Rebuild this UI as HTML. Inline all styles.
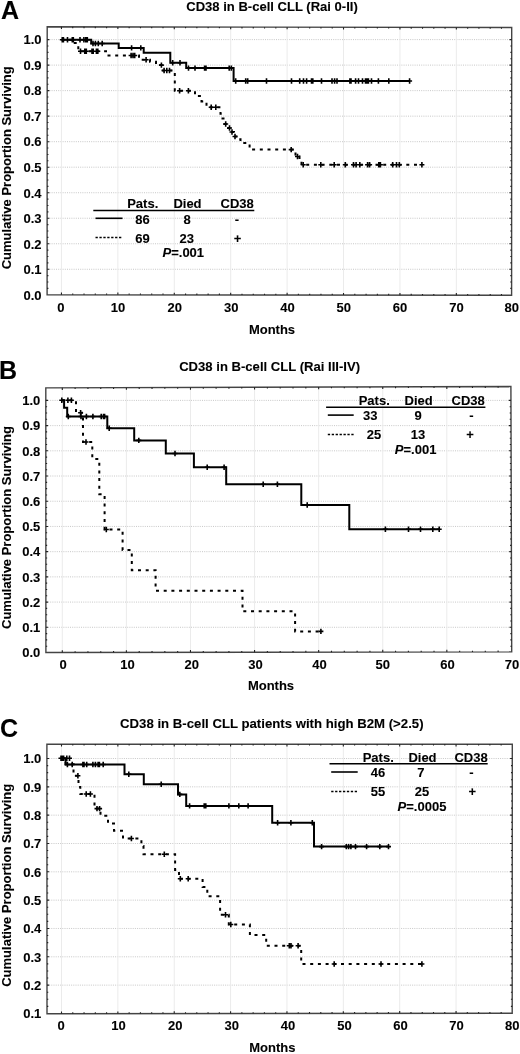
<!DOCTYPE html>
<html><head><meta charset="utf-8"><title>CD38 in B-cell CLL survival</title>
<style>
html,body{margin:0;padding:0;background:#fff;}
body{width:520px;height:1054px;overflow:hidden;}
svg{display:block;filter:blur(0.3px);}
svg text{font-family:"Liberation Sans", sans-serif;font-weight:bold;fill:#000;stroke:#000;stroke-width:0.1px;}
</style></head>
<body>
<svg width="520" height="1054" viewBox="0 0 520 1054">
<rect width="520" height="1054" fill="#fff"/>
<path d="M47.2 269.28H511.8 M47.2 243.76H511.8 M47.2 218.24H511.8 M47.2 192.72H511.8 M47.2 167.2H511.8 M47.2 141.68H511.8 M47.2 116.16H511.8 M47.2 90.64H511.8 M47.2 65.12H511.8 M47.2 39.6H511.8" stroke="#c2c2c2" stroke-width="0.9" stroke-dasharray="1 1.2" fill="none"/>
<path d="M61.45 27V294.8 M117.87 27V294.8 M174.28 27V294.8 M230.69 27V294.8 M287.11 27V294.8 M343.52 27V294.8 M399.94 27V294.8 M456.35 27V294.8" stroke="#ebebeb" stroke-width="1" fill="none"/>
<path d="M47.2 26.8L511.7 27.5L511.6 295.3L47.1 294.7Z" fill="none" stroke="#444" stroke-width="1.4" stroke-linejoin="miter"/>
<path d="M61.45 294.72v-2.2M61.45 26.82v2.2 M72.73 294.73v-1.3M72.73 26.84v1.3 M84.02 294.75v-1.3M84.02 26.86v1.3 M95.3 294.76v-1.3M95.3 26.87v1.3 M106.58 294.78v-1.3M106.58 26.89v1.3 M117.87 294.79v-2.2M117.87 26.91v2.2 M129.15 294.81v-1.3M129.15 26.92v1.3 M140.43 294.82v-1.3M140.43 26.94v1.3 M151.71 294.84v-1.3M151.71 26.96v1.3 M163 294.85v-1.3M163 26.97v1.3 M174.28 294.86v-2.2M174.28 26.99v2.2 M185.56 294.88v-1.3M185.56 27.01v1.3 M196.85 294.89v-1.3M196.85 27.03v1.3 M208.13 294.91v-1.3M208.13 27.04v1.3 M219.41 294.92v-1.3M219.41 27.06v1.3 M230.69 294.94v-2.2M230.69 27.08v2.2 M241.98 294.95v-1.3M241.98 27.09v1.3 M253.26 294.97v-1.3M253.26 27.11v1.3 M264.54 294.98v-1.3M264.54 27.13v1.3 M275.83 295v-1.3M275.83 27.14v1.3 M287.11 295.01v-2.2M287.11 27.16v2.2 M298.39 295.02v-1.3M298.39 27.18v1.3 M309.68 295.04v-1.3M309.68 27.2v1.3 M320.96 295.05v-1.3M320.96 27.21v1.3 M332.24 295.07v-1.3M332.24 27.23v1.3 M343.52 295.08v-2.2M343.52 27.25v2.2 M354.81 295.1v-1.3M354.81 27.26v1.3 M366.09 295.11v-1.3M366.09 27.28v1.3 M377.37 295.13v-1.3M377.37 27.3v1.3 M388.66 295.14v-1.3M388.66 27.31v1.3 M399.94 295.16v-2.2M399.94 27.33v2.2 M411.22 295.17v-1.3M411.22 27.35v1.3 M422.51 295.18v-1.3M422.51 27.37v1.3 M433.79 295.2v-1.3M433.79 27.38v1.3 M445.07 295.21v-1.3M445.07 27.4v1.3 M456.35 295.23v-2.2M456.35 27.42v2.2 M467.64 295.24v-1.3M467.64 27.43v1.3 M478.92 295.26v-1.3M478.92 27.45v1.3 M490.2 295.27v-1.3M490.2 27.47v1.3 M501.49 295.29v-1.3M501.49 27.48v1.3 M47.2 39.6h2.2M511.7 39.6h-2.2 M47.19 45.98h1.3M511.69 45.98h-1.3 M47.19 52.36h1.3M511.69 52.36h-1.3 M47.19 58.74h1.3M511.69 58.74h-1.3 M47.19 65.12h2.2M511.69 65.12h-2.2 M47.18 71.5h1.3M511.68 71.5h-1.3 M47.18 77.88h1.3M511.68 77.88h-1.3 M47.18 84.26h1.3M511.68 84.26h-1.3 M47.18 90.64h2.2M511.68 90.64h-2.2 M47.17 97.02h1.3M511.67 97.02h-1.3 M47.17 103.4h1.3M511.67 103.4h-1.3 M47.17 109.78h1.3M511.67 109.78h-1.3 M47.17 116.16h2.2M511.67 116.16h-2.2 M47.16 122.54h1.3M511.66 122.54h-1.3 M47.16 128.92h1.3M511.66 128.92h-1.3 M47.16 135.3h1.3M511.66 135.3h-1.3 M47.16 141.68h2.2M511.66 141.68h-2.2 M47.15 148.06h1.3M511.65 148.06h-1.3 M47.15 154.44h1.3M511.65 154.44h-1.3 M47.15 160.82h1.3M511.65 160.82h-1.3 M47.15 167.2h2.2M511.65 167.2h-2.2 M47.15 173.58h1.3M511.65 173.58h-1.3 M47.14 179.96h1.3M511.64 179.96h-1.3 M47.14 186.34h1.3M511.64 186.34h-1.3 M47.14 192.72h2.2M511.64 192.72h-2.2 M47.14 199.1h1.3M511.64 199.1h-1.3 M47.13 205.48h1.3M511.63 205.48h-1.3 M47.13 211.86h1.3M511.63 211.86h-1.3 M47.13 218.24h2.2M511.63 218.24h-2.2 M47.13 224.62h1.3M511.63 224.62h-1.3 M47.12 231h1.3M511.62 231h-1.3 M47.12 237.38h1.3M511.62 237.38h-1.3 M47.12 243.76h2.2M511.62 243.76h-2.2 M47.12 250.14h1.3M511.62 250.14h-1.3 M47.11 256.52h1.3M511.61 256.52h-1.3 M47.11 262.9h1.3M511.61 262.9h-1.3 M47.11 269.28h2.2M511.61 269.28h-2.2 M47.11 275.66h1.3M511.61 275.66h-1.3 M47.1 282.04h1.3M511.6 282.04h-1.3 M47.1 288.42h1.3M511.6 288.42h-1.3" stroke="#222" stroke-width="1.1" fill="none"/>
<text x="41.5" y="299.6" font-size="13" text-anchor="end">0.0</text>
<text x="41.5" y="274.08" font-size="13" text-anchor="end">0.1</text>
<text x="41.5" y="248.56" font-size="13" text-anchor="end">0.2</text>
<text x="41.5" y="223.04" font-size="13" text-anchor="end">0.3</text>
<text x="41.5" y="197.52" font-size="13" text-anchor="end">0.4</text>
<text x="41.5" y="172" font-size="13" text-anchor="end">0.5</text>
<text x="41.5" y="146.48" font-size="13" text-anchor="end">0.6</text>
<text x="41.5" y="120.96" font-size="13" text-anchor="end">0.7</text>
<text x="41.5" y="95.44" font-size="13" text-anchor="end">0.8</text>
<text x="41.5" y="69.92" font-size="13" text-anchor="end">0.9</text>
<text x="41.5" y="44.4" font-size="13" text-anchor="end">1.0</text>
<text x="60.9" y="311.7" font-size="13" text-anchor="middle">0</text>
<text x="118" y="311.7" font-size="13" text-anchor="middle">10</text>
<text x="174.7" y="311.7" font-size="13" text-anchor="middle">20</text>
<text x="231.2" y="311.7" font-size="13" text-anchor="middle">30</text>
<text x="287.5" y="311.7" font-size="13" text-anchor="middle">40</text>
<text x="343.7" y="311.7" font-size="13" text-anchor="middle">50</text>
<text x="400.1" y="311.7" font-size="13" text-anchor="middle">60</text>
<text x="456.6" y="311.7" font-size="13" text-anchor="middle">70</text>
<text x="511.8" y="311.7" font-size="13" text-anchor="middle">80</text>
<text x="272" y="333.5" font-size="13" text-anchor="middle">Months</text>
<text transform="translate(10.5 167.8) rotate(-90)" font-size="13" text-anchor="middle">Cumulative Proportion Surviving</text>
<text x="272" y="11.1" font-size="13.05" text-anchor="middle">CD38 in B-cell CLL (Rai 0-II)</text>
<text x="1" y="18.8" font-size="25" text-anchor="start">A</text>
<path d="M61.6 39.8 L91.2 39.8 L91.2 43.5 L118.7 43.5 L118.7 47.9 L143.7 47.9 L143.7 52.8 L170.3 52.8 L170.3 62.8 L186.2 62.8 L186.2 68.1 L233.6 68.1 L233.6 81 L410 81" stroke="#000" stroke-width="2" fill="none" stroke-linejoin="miter"/>
<path d="M61.6 39.8 L73.5 39.8 L73.5 43.1 L78.3 43.1 L78.3 51.2 L106 51.2 L106 55.5 L139 55.5 L139 59.8 L150 59.8 L150 61.8 L156 61.8 L156 65.1 L162.8 65.1 L162.8 70.5 L174.8 70.5 L174.8 90.7 L195 90.7 L195 96 L201.5 96 L201.5 101.4 L206.5 101.4 L206.5 107.3 L220.5 107.3 L220.5 113.7 L222.5 113.7 L222.5 118.6 L224.5 118.6 L224.5 124 L228 124 L228 128 L230.5 128 L230.5 132 L234 132 L234 136.5 L238 136.5 L238 139.3 L240.5 139.3 L240.5 143 L249.6 143 L249.6 149.6 L295.5 149.6 L295.5 156.5 L299.5 156.5 L299.5 160 L301.5 160 L301.5 164.8 L422 164.8" stroke="#000" stroke-width="2" fill="none" stroke-dasharray="3 4.7"/>
<path d="M62.3 37.1v5.4M59.8 39.8h5 M63.4 37.1v5.4M60.9 39.8h5 M67.5 37.1v5.4M65 39.8h5 M72.3 37.1v5.4M69.8 39.8h5 M73.3 37.1v5.4M70.8 39.8h5 M80 37.1v5.4M77.5 39.8h5 M83.9 37.1v5.4M81.4 39.8h5 M85.8 37.1v5.4M83.3 39.8h5 M87.3 37.1v5.4M84.8 39.8h5 M93 40.8v5.4M90.5 43.5h5 M95.4 40.8v5.4M92.9 43.5h5 M98.3 40.8v5.4M95.8 43.5h5 M102.2 40.8v5.4M99.7 43.5h5 M131.6 45.2v5.4M129.1 47.9h5 M140.8 45.2v5.4M138.3 47.9h5 M172.7 60.1v5.4M170.2 62.8h5 M180 60.1v5.4M177.5 62.8h5 M188.5 65.4v5.4M186 68.1h5 M195 65.4v5.4M192.5 68.1h5 M204.6 65.4v5.4M202.1 68.1h5 M206 65.4v5.4M203.5 68.1h5 M229.2 65.4v5.4M226.7 68.1h5 M231.3 65.4v5.4M228.8 68.1h5 M235.7 78.3v5.4M233.2 81h5 M245.7 78.3v5.4M243.2 81h5 M247.7 78.3v5.4M245.2 81h5 M266.5 78.3v5.4M264 81h5 M291.5 78.3v5.4M289 81h5 M299.7 78.3v5.4M297.2 81h5 M303.5 78.3v5.4M301 81h5 M306.6 78.3v5.4M304.1 81h5 M311.5 78.3v5.4M309 81h5 M312.8 78.3v5.4M310.3 81h5 M321.5 78.3v5.4M319 81h5 M332 78.3v5.4M329.5 81h5 M334.6 78.3v5.4M332.1 81h5 M337 78.3v5.4M334.5 81h5 M349.9 78.3v5.4M347.4 81h5 M351 78.3v5.4M348.5 81h5 M355.6 78.3v5.4M353.1 81h5 M358.5 78.3v5.4M356 81h5 M362.5 78.3v5.4M360 81h5 M365.5 78.3v5.4M363 81h5 M366.8 78.3v5.4M364.3 81h5 M368.4 78.3v5.4M365.9 81h5 M371.5 78.3v5.4M369 81h5 M378.4 78.3v5.4M375.9 81h5 M388.8 78.3v5.4M386.3 81h5 M409.6 78.3v5.4M407.1 81h5 M80.5 48.5v5.4M78 51.2h5 M84.8 48.5v5.4M82.3 51.2h5 M86.3 48.5v5.4M83.8 51.2h5 M92 48.5v5.4M89.5 51.2h5 M93.2 48.5v5.4M90.7 51.2h5 M96.4 48.5v5.4M93.9 51.2h5 M97.8 48.5v5.4M95.3 51.2h5 M131.1 52.8v5.4M128.6 55.5h5 M133 52.8v5.4M130.5 55.5h5 M134.7 52.8v5.4M132.2 55.5h5 M146.1 57.1v5.4M143.6 59.8h5 M161.4 62.4v5.4M158.9 65.1h5 M164.1 67.8v5.4M161.6 70.5h5 M166.8 67.8v5.4M164.3 70.5h5 M169.5 67.8v5.4M167 70.5h5 M179.6 88v5.4M177.1 90.7h5 M188.4 88v5.4M185.9 90.7h5 M211.2 104.6v5.4M208.7 107.3h5 M215.8 104.6v5.4M213.3 107.3h5 M225.7 121.3v5.4M223.2 124h5 M229.5 125.3v5.4M227 128h5 M232 129.3v5.4M229.5 132h5 M235 133.8v5.4M232.5 136.5h5 M291.2 146.9v5.4M288.7 149.6h5 M297.5 153.8v5.4M295 156.5h5 M303.2 162.1v5.4M300.7 164.8h5 M320.8 162.1v5.4M318.3 164.8h5 M334.2 162.1v5.4M331.7 164.8h5 M345.3 162.1v5.4M342.8 164.8h5 M353.5 162.1v5.4M351 164.8h5 M356.1 162.1v5.4M353.6 164.8h5 M359.8 162.1v5.4M357.3 164.8h5 M367.6 162.1v5.4M365.1 164.8h5 M369.6 162.1v5.4M367.1 164.8h5 M378.8 162.1v5.4M376.3 164.8h5 M380.4 162.1v5.4M377.9 164.8h5 M392.7 162.1v5.4M390.2 164.8h5 M396.5 162.1v5.4M394 164.8h5 M399.3 162.1v5.4M396.8 164.8h5 M421.9 162.1v5.4M419.4 164.8h5" stroke="#000" stroke-width="1.6" fill="none"/>
<path d="M93.3 210.6H254.3" stroke="#000" stroke-width="1.5"/>
<text x="127.2" y="208.2" font-size="13" text-anchor="start">Pats.</text>
<text x="173.4" y="208.2" font-size="13" text-anchor="start">Died</text>
<text x="220.5" y="208.2" font-size="13" text-anchor="start">CD38</text>
<path d="M95.5 218.3H122.5" stroke="#000" stroke-width="1.6"/>
<path d="M95.5 237.4h25.82" stroke="#000" stroke-width="1.5" stroke-dasharray="2.3 1.62"/>
<text x="142.5" y="223.6" font-size="13" text-anchor="middle">86</text>
<text x="187" y="223.6" font-size="13" text-anchor="middle">8</text>
<text x="236.8" y="223.6" font-size="13" text-anchor="middle">-</text>
<text x="142.5" y="242.7" font-size="13" text-anchor="middle">69</text>
<text x="186.7" y="242.7" font-size="13" text-anchor="middle">23</text>
<text x="237.6" y="242.7" font-size="13" text-anchor="middle">+</text>
<text x="162.5" y="257.4" font-size="13"><tspan font-style="italic">P</tspan>=.001</text>
<path d="M45.8 627.29H511.5 M45.8 602.08H511.5 M45.8 576.87H511.5 M45.8 551.66H511.5 M45.8 526.45H511.5 M45.8 501.24H511.5 M45.8 476.03H511.5 M45.8 450.82H511.5 M45.8 425.61H511.5 M45.8 400.4H511.5" stroke="#c2c2c2" stroke-width="0.9" stroke-dasharray="1 1.2" fill="none"/>
<path d="M62.3 387.3V652.4 M126.39 387.3V652.4 M190.48 387.3V652.4 M254.57 387.3V652.4 M318.66 387.3V652.4 M382.75 387.3V652.4 M446.84 387.3V652.4" stroke="#ebebeb" stroke-width="1" fill="none"/>
<path d="M45.8 387.9L510.9 386.5L511.7 651.9L45.9 652.5Z" fill="none" stroke="#444" stroke-width="1.4" stroke-linejoin="miter"/>
<path d="M62.3 652.48v-2.2M62.3 387.85v2.2 M75.12 652.46v-1.3M75.12 387.81v1.3 M87.94 652.45v-1.3M87.94 387.77v1.3 M100.75 652.43v-1.3M100.75 387.73v1.3 M113.57 652.41v-1.3M113.57 387.7v1.3 M126.39 652.4v-2.2M126.39 387.66v2.2 M139.21 652.38v-1.3M139.21 387.62v1.3 M152.03 652.36v-1.3M152.03 387.58v1.3 M164.84 652.35v-1.3M164.84 387.54v1.3 M177.66 652.33v-1.3M177.66 387.5v1.3 M190.48 652.31v-2.2M190.48 387.46v2.2 M203.3 652.3v-1.3M203.3 387.43v1.3 M216.12 652.28v-1.3M216.12 387.39v1.3 M228.93 652.26v-1.3M228.93 387.35v1.3 M241.75 652.25v-1.3M241.75 387.31v1.3 M254.57 652.23v-2.2M254.57 387.27v2.2 M267.39 652.21v-1.3M267.39 387.23v1.3 M280.21 652.2v-1.3M280.21 387.19v1.3 M293.02 652.18v-1.3M293.02 387.16v1.3 M305.84 652.17v-1.3M305.84 387.12v1.3 M318.66 652.15v-2.2M318.66 387.08v2.2 M331.48 652.13v-1.3M331.48 387.04v1.3 M344.3 652.12v-1.3M344.3 387v1.3 M357.11 652.1v-1.3M357.11 386.96v1.3 M369.93 652.08v-1.3M369.93 386.92v1.3 M382.75 652.07v-2.2M382.75 386.89v2.2 M395.57 652.05v-1.3M395.57 386.85v1.3 M408.39 652.03v-1.3M408.39 386.81v1.3 M421.2 652.02v-1.3M421.2 386.77v1.3 M434.02 652v-1.3M434.02 386.73v1.3 M446.84 651.98v-2.2M446.84 386.69v2.2 M459.66 651.97v-1.3M459.66 386.65v1.3 M472.48 651.95v-1.3M472.48 386.62v1.3 M485.29 651.93v-1.3M485.29 386.58v1.3 M498.11 651.92v-1.3M498.11 386.54v1.3 M45.8 400.4h2.2M510.94 400.4h-2.2 M45.81 406.7h1.3M510.96 406.7h-1.3 M45.81 413h1.3M510.98 413h-1.3 M45.81 419.31h1.3M511 419.31h-1.3 M45.81 425.61h2.2M511.02 425.61h-2.2 M45.82 431.91h1.3M511.04 431.91h-1.3 M45.82 438.22h1.3M511.06 438.22h-1.3 M45.82 444.52h1.3M511.07 444.52h-1.3 M45.82 450.82h2.2M511.09 450.82h-2.2 M45.83 457.12h1.3M511.11 457.12h-1.3 M45.83 463.43h1.3M511.13 463.43h-1.3 M45.83 469.73h1.3M511.15 469.73h-1.3 M45.83 476.03h2.2M511.17 476.03h-2.2 M45.84 482.33h1.3M511.19 482.33h-1.3 M45.84 488.64h1.3M511.21 488.64h-1.3 M45.84 494.94h1.3M511.23 494.94h-1.3 M45.84 501.24h2.2M511.25 501.24h-2.2 M45.85 507.54h1.3M511.26 507.54h-1.3 M45.85 513.85h1.3M511.28 513.85h-1.3 M45.85 520.15h1.3M511.3 520.15h-1.3 M45.85 526.45h2.2M511.32 526.45h-2.2 M45.85 532.75h1.3M511.34 532.75h-1.3 M45.86 539.06h1.3M511.36 539.06h-1.3 M45.86 545.36h1.3M511.38 545.36h-1.3 M45.86 551.66h2.2M511.4 551.66h-2.2 M45.86 557.96h1.3M511.42 557.96h-1.3 M45.87 564.27h1.3M511.44 564.27h-1.3 M45.87 570.57h1.3M511.45 570.57h-1.3 M45.87 576.87h2.2M511.47 576.87h-2.2 M45.87 583.17h1.3M511.49 583.17h-1.3 M45.88 589.48h1.3M511.51 589.48h-1.3 M45.88 595.78h1.3M511.53 595.78h-1.3 M45.88 602.08h2.2M511.55 602.08h-2.2 M45.88 608.38h1.3M511.57 608.38h-1.3 M45.89 614.69h1.3M511.59 614.69h-1.3 M45.89 620.99h1.3M511.61 620.99h-1.3 M45.89 627.29h2.2M511.63 627.29h-2.2 M45.89 633.59h1.3M511.64 633.59h-1.3 M45.9 639.9h1.3M511.66 639.9h-1.3 M45.9 646.2h1.3M511.68 646.2h-1.3" stroke="#222" stroke-width="1.1" fill="none"/>
<text x="40.3" y="657.3" font-size="13" text-anchor="end">0.0</text>
<text x="40.3" y="632.09" font-size="13" text-anchor="end">0.1</text>
<text x="40.3" y="606.88" font-size="13" text-anchor="end">0.2</text>
<text x="40.3" y="581.67" font-size="13" text-anchor="end">0.3</text>
<text x="40.3" y="556.46" font-size="13" text-anchor="end">0.4</text>
<text x="40.3" y="531.25" font-size="13" text-anchor="end">0.5</text>
<text x="40.3" y="506.04" font-size="13" text-anchor="end">0.6</text>
<text x="40.3" y="480.83" font-size="13" text-anchor="end">0.7</text>
<text x="40.3" y="455.62" font-size="13" text-anchor="end">0.8</text>
<text x="40.3" y="430.41" font-size="13" text-anchor="end">0.9</text>
<text x="40.3" y="405.2" font-size="13" text-anchor="end">1.0</text>
<text x="63.1" y="668.6" font-size="13" text-anchor="middle">0</text>
<text x="127.5" y="668.6" font-size="13" text-anchor="middle">10</text>
<text x="191.7" y="668.6" font-size="13" text-anchor="middle">20</text>
<text x="255.6" y="668.6" font-size="13" text-anchor="middle">30</text>
<text x="319.4" y="668.6" font-size="13" text-anchor="middle">40</text>
<text x="382.8" y="668.6" font-size="13" text-anchor="middle">50</text>
<text x="447.5" y="668.6" font-size="13" text-anchor="middle">60</text>
<text x="511.9" y="668.6" font-size="13" text-anchor="middle">70</text>
<text x="271" y="690.4" font-size="13" text-anchor="middle">Months</text>
<text transform="translate(10.5 527.5) rotate(-90)" font-size="13" text-anchor="middle">Cumulative Proportion Surviving</text>
<text x="269.6" y="371.1" font-size="13.1" text-anchor="middle">CD38 in B-cell CLL (Rai III-IV)</text>
<text x="-1" y="379.2" font-size="25" text-anchor="start">B</text>
<path d="M61.6 400.3 L64.1 400.3 L64.1 407.8 L67.2 407.8 L67.2 416.5 L107.3 416.5 L107.3 428.2 L134.2 428.2 L134.2 440.4 L165.8 440.4 L165.8 453.5 L193.9 453.5 L193.9 467.2 L226.2 467.2 L226.2 484.2 L301.3 484.2 L301.3 505 L349.3 505 L349.3 529.2 L439.5 529.2" stroke="#000" stroke-width="2" fill="none" stroke-linejoin="miter"/>
<path d="M61.6 400.3 L76 400.3 L76 412.8 L83 412.8 L83 442 L92.3 442 L92.3 459 L99.3 459 L99.3 494.2 L104.6 494.2 L104.6 529.5 L122.6 529.5 L122.6 550 L131.8 550 L131.8 570.3 L155.6 570.3 L155.6 590.8 L242.5 590.8 L242.5 611.3 L295.1 611.3 L295.1 631.4 L321 631.4" stroke="#000" stroke-width="2" fill="none" stroke-dasharray="3 4.7"/>
<path d="M61.8 397.6v5.4M59.3 400.3h5 M68.3 413.8v5.4M65.8 416.5h5 M81 413.8v5.4M78.5 416.5h5 M86.4 413.8v5.4M83.9 416.5h5 M92.9 413.8v5.4M90.4 416.5h5 M101.2 413.8v5.4M98.7 416.5h5 M103.5 413.8v5.4M101 416.5h5 M104.6 413.8v5.4M102.1 416.5h5 M109.2 425.5v5.4M106.7 428.2h5 M138.8 437.7v5.4M136.3 440.4h5 M175 450.8v5.4M172.5 453.5h5 M207.2 464.5v5.4M204.7 467.2h5 M224.1 464.5v5.4M221.6 467.2h5 M263.2 481.5v5.4M260.7 484.2h5 M277.4 481.5v5.4M274.9 484.2h5 M307.2 502.3v5.4M304.7 505h5 M385.4 526.5v5.4M382.9 529.2h5 M408.5 526.5v5.4M406 529.2h5 M420.5 526.5v5.4M418 529.2h5 M432.8 526.5v5.4M430.3 529.2h5 M439.2 526.5v5.4M436.7 529.2h5 M67.9 397.6v5.4M65.4 400.3h5 M71.4 397.6v5.4M68.9 400.3h5 M80.6 410.1v5.4M78.1 412.8h5 M86 439.3v5.4M83.5 442h5 M106.3 526.8v5.4M103.8 529.5h5 M320.9 628.7v5.4M318.4 631.4h5" stroke="#000" stroke-width="1.6" fill="none"/>
<path d="M326.1 407.2H485.4" stroke="#000" stroke-width="1.5"/>
<text x="358.7" y="404.9" font-size="13" text-anchor="start">Pats.</text>
<text x="404.5" y="404.9" font-size="13" text-anchor="start">Died</text>
<text x="451.5" y="404.9" font-size="13" text-anchor="start">CD38</text>
<path d="M327.8 415.1H353.7" stroke="#000" stroke-width="1.6"/>
<path d="M327.8 434.6h25.82" stroke="#000" stroke-width="1.5" stroke-dasharray="2.3 1.62"/>
<text x="370.2" y="420.2" font-size="13" text-anchor="middle">33</text>
<text x="418.2" y="420.2" font-size="13" text-anchor="middle">9</text>
<text x="471.5" y="420.2" font-size="13" text-anchor="middle">-</text>
<text x="374.1" y="439.2" font-size="13" text-anchor="middle">25</text>
<text x="418" y="439.2" font-size="13" text-anchor="middle">13</text>
<text x="470" y="439.2" font-size="13" text-anchor="middle">+</text>
<text x="394.8" y="453.5" font-size="13"><tspan font-style="italic">P</tspan>=.001</text>
<path d="M46.9 985.14H512 M46.9 956.81H512 M46.9 928.48H512 M46.9 900.15H512 M46.9 871.82H512 M46.9 843.49H512 M46.9 815.16H512 M46.9 786.83H512 M46.9 758.5H512" stroke="#c2c2c2" stroke-width="0.9" stroke-dasharray="1 1.2" fill="none"/>
<path d="M61.5 744.3V1013.3 M117.86 744.3V1013.3 M174.23 744.3V1013.3 M230.59 744.3V1013.3 M286.96 744.3V1013.3 M343.32 744.3V1013.3 M399.69 744.3V1013.3 M456.06 744.3V1013.3" stroke="#ebebeb" stroke-width="1" fill="none"/>
<path d="M46.9 744.3L512.3 744.2L512.2 1013.2L47 1013.7Z" fill="none" stroke="#444" stroke-width="1.4" stroke-linejoin="miter"/>
<path d="M61.5 1013.68v-2.2M61.5 744.3v2.2 M72.77 1013.67v-1.3M72.77 744.29v1.3 M84.05 1013.66v-1.3M84.05 744.29v1.3 M95.32 1013.65v-1.3M95.32 744.29v1.3 M106.59 1013.64v-1.3M106.59 744.29v1.3 M117.86 1013.62v-2.2M117.86 744.28v2.2 M129.14 1013.61v-1.3M129.14 744.28v1.3 M140.41 1013.6v-1.3M140.41 744.28v1.3 M151.68 1013.59v-1.3M151.68 744.28v1.3 M162.96 1013.58v-1.3M162.96 744.28v1.3 M174.23 1013.56v-2.2M174.23 744.27v2.2 M185.5 1013.55v-1.3M185.5 744.27v1.3 M196.78 1013.54v-1.3M196.78 744.27v1.3 M208.05 1013.53v-1.3M208.05 744.27v1.3 M219.32 1013.51v-1.3M219.32 744.26v1.3 M230.59 1013.5v-2.2M230.59 744.26v2.2 M241.87 1013.49v-1.3M241.87 744.26v1.3 M253.14 1013.48v-1.3M253.14 744.26v1.3 M264.41 1013.47v-1.3M264.41 744.25v1.3 M275.69 1013.45v-1.3M275.69 744.25v1.3 M286.96 1013.44v-2.2M286.96 744.25v2.2 M298.23 1013.43v-1.3M298.23 744.25v1.3 M309.51 1013.42v-1.3M309.51 744.24v1.3 M320.78 1013.41v-1.3M320.78 744.24v1.3 M332.05 1013.39v-1.3M332.05 744.24v1.3 M343.32 1013.38v-2.2M343.32 744.24v2.2 M354.6 1013.37v-1.3M354.6 744.23v1.3 M365.87 1013.36v-1.3M365.87 744.23v1.3 M377.14 1013.35v-1.3M377.14 744.23v1.3 M388.42 1013.33v-1.3M388.42 744.23v1.3 M399.69 1013.32v-2.2M399.69 744.22v2.2 M410.96 1013.31v-1.3M410.96 744.22v1.3 M422.24 1013.3v-1.3M422.24 744.22v1.3 M433.51 1013.28v-1.3M433.51 744.22v1.3 M444.78 1013.27v-1.3M444.78 744.21v1.3 M456.06 1013.26v-2.2M456.06 744.21v2.2 M467.33 1013.25v-1.3M467.33 744.21v1.3 M478.6 1013.24v-1.3M478.6 744.21v1.3 M489.87 1013.22v-1.3M489.87 744.2v1.3 M501.15 1013.21v-1.3M501.15 744.2v1.3 M46.91 758.5h2.2M512.29 758.5h-2.2 M46.91 765.58h1.3M512.29 765.58h-1.3 M46.91 772.66h1.3M512.29 772.66h-1.3 M46.91 779.75h1.3M512.29 779.75h-1.3 M46.92 786.83h2.2M512.28 786.83h-2.2 M46.92 793.91h1.3M512.28 793.91h-1.3 M46.92 801h1.3M512.28 801h-1.3 M46.92 808.08h1.3M512.28 808.08h-1.3 M46.93 815.16h2.2M512.27 815.16h-2.2 M46.93 822.24h1.3M512.27 822.24h-1.3 M46.93 829.33h1.3M512.27 829.33h-1.3 M46.93 836.41h1.3M512.27 836.41h-1.3 M46.94 843.49h2.2M512.26 843.49h-2.2 M46.94 850.57h1.3M512.26 850.57h-1.3 M46.94 857.66h1.3M512.26 857.66h-1.3 M46.94 864.74h1.3M512.26 864.74h-1.3 M46.95 871.82h2.2M512.25 871.82h-2.2 M46.95 878.9h1.3M512.25 878.9h-1.3 M46.95 885.99h1.3M512.25 885.99h-1.3 M46.96 893.07h1.3M512.24 893.07h-1.3 M46.96 900.15h2.2M512.24 900.15h-2.2 M46.96 907.23h1.3M512.24 907.23h-1.3 M46.96 914.32h1.3M512.24 914.32h-1.3 M46.97 921.4h1.3M512.23 921.4h-1.3 M46.97 928.48h2.2M512.23 928.48h-2.2 M46.97 935.56h1.3M512.23 935.56h-1.3 M46.97 942.65h1.3M512.23 942.65h-1.3 M46.98 949.73h1.3M512.22 949.73h-1.3 M46.98 956.81h2.2M512.22 956.81h-2.2 M46.98 963.89h1.3M512.22 963.89h-1.3 M46.98 970.98h1.3M512.22 970.98h-1.3 M46.99 978.06h1.3M512.21 978.06h-1.3 M46.99 985.14h2.2M512.21 985.14h-2.2 M46.99 992.22h1.3M512.21 992.22h-1.3 M46.99 999.31h1.3M512.21 999.31h-1.3 M47 1006.39h1.3M512.2 1006.39h-1.3" stroke="#222" stroke-width="1.1" fill="none"/>
<text x="41.3" y="1018.27" font-size="13" text-anchor="end">0.1</text>
<text x="41.3" y="989.94" font-size="13" text-anchor="end">0.2</text>
<text x="41.3" y="961.61" font-size="13" text-anchor="end">0.3</text>
<text x="41.3" y="933.28" font-size="13" text-anchor="end">0.4</text>
<text x="41.3" y="904.95" font-size="13" text-anchor="end">0.5</text>
<text x="41.3" y="876.62" font-size="13" text-anchor="end">0.6</text>
<text x="41.3" y="848.29" font-size="13" text-anchor="end">0.7</text>
<text x="41.3" y="819.96" font-size="13" text-anchor="end">0.8</text>
<text x="41.3" y="791.63" font-size="13" text-anchor="end">0.9</text>
<text x="41.3" y="763.3" font-size="13" text-anchor="end">1.0</text>
<text x="61.2" y="1030.2" font-size="13" text-anchor="middle">0</text>
<text x="118.5" y="1030.2" font-size="13" text-anchor="middle">10</text>
<text x="175.3" y="1030.2" font-size="13" text-anchor="middle">20</text>
<text x="231.8" y="1030.2" font-size="13" text-anchor="middle">30</text>
<text x="287.9" y="1030.2" font-size="13" text-anchor="middle">40</text>
<text x="344.5" y="1030.2" font-size="13" text-anchor="middle">50</text>
<text x="400.6" y="1030.2" font-size="13" text-anchor="middle">60</text>
<text x="456.4" y="1030.2" font-size="13" text-anchor="middle">70</text>
<text x="512.2" y="1030.2" font-size="13" text-anchor="middle">80</text>
<text x="272.4" y="1052.2" font-size="13" text-anchor="middle">Months</text>
<text transform="translate(10.5 885.3) rotate(-90)" font-size="13" text-anchor="middle">Cumulative Proportion Surviving</text>
<text x="271.8" y="727.5" font-size="13.2" text-anchor="middle">CD38 in B-cell CLL patients with high B2M (&gt;2.5)</text>
<text x="0" y="736.5" font-size="25" text-anchor="start">C</text>
<path d="M61.6 758.3 L65.6 758.3 L65.6 764.5 L124.5 764.5 L124.5 774.2 L143.8 774.2 L143.8 784.2 L178 784.2 L178 794.4 L186.2 794.4 L186.2 805.9 L272.2 805.9 L272.2 822.7 L314 822.7 L314 846.6 L389.2 846.6" stroke="#000" stroke-width="2" fill="none" stroke-linejoin="miter"/>
<path d="M61.6 758.3 L65.6 758.3 L65.6 764.3 L73.5 764.3 L73.5 775.8 L78.5 775.8 L78.5 787 L80.3 787 L80.3 794 L94.5 794 L94.5 808.6 L100.5 808.6 L100.5 815.7 L108 815.7 L108 823.4 L114 823.4 L114 830.8 L123 830.8 L123 838.5 L141.4 838.5 L141.4 846 L143.5 846 L143.5 854.2 L175.1 854.2 L175.1 870 L179 870 L179 878.7 L202.6 878.7 L202.6 887 L207.3 887 L207.3 896.2 L220.1 896.2 L220.1 914.8 L228.8 914.8 L228.8 924.5 L249.9 924.5 L249.9 935 L266.2 935 L266.2 945.8 L301.2 945.8 L301.2 964 L422.8 964" stroke="#000" stroke-width="2" fill="none" stroke-dasharray="3 4.7"/>
<path d="M61 755.6v5.4M58.5 758.3h5 M62.4 755.6v5.4M59.9 758.3h5 M63.6 755.6v5.4M61.1 758.3h5 M67.4 761.8v5.4M64.9 764.5h5 M72.2 761.8v5.4M69.7 764.5h5 M82.9 761.8v5.4M80.4 764.5h5 M84 761.8v5.4M81.5 764.5h5 M86.7 761.8v5.4M84.2 764.5h5 M92.9 761.8v5.4M90.4 764.5h5 M95.4 761.8v5.4M92.9 764.5h5 M98.1 761.8v5.4M95.6 764.5h5 M99.4 761.8v5.4M96.9 764.5h5 M103.2 761.8v5.4M100.7 764.5h5 M128.8 771.5v5.4M126.3 774.2h5 M161.2 781.5v5.4M158.7 784.2h5 M179.8 791.7v5.4M177.3 794.4h5 M189.6 803.2v5.4M187.1 805.9h5 M204.2 803.2v5.4M201.7 805.9h5 M205.8 803.2v5.4M203.3 805.9h5 M228.9 803.2v5.4M226.4 805.9h5 M238.8 803.2v5.4M236.3 805.9h5 M248.1 803.2v5.4M245.6 805.9h5 M277.6 820v5.4M275.1 822.7h5 M290.9 820v5.4M288.4 822.7h5 M312.3 820v5.4M309.8 822.7h5 M321.6 843.9v5.4M319.1 846.6h5 M346.3 843.9v5.4M343.8 846.6h5 M348.6 843.9v5.4M346.1 846.6h5 M350.9 843.9v5.4M348.4 846.6h5 M355.5 843.9v5.4M353 846.6h5 M366.6 843.9v5.4M364.1 846.6h5 M379.8 843.9v5.4M377.3 846.6h5 M388.5 843.9v5.4M386 846.6h5 M66.8 755.6v5.4M64.3 758.3h5 M69.5 755.6v5.4M67 758.3h5 M77.9 773.1v5.4M75.4 775.8h5 M86.2 791.3v5.4M83.7 794h5 M90.4 791.3v5.4M87.9 794h5 M97 805.9v5.4M94.5 808.6h5 M99.6 805.9v5.4M97.1 808.6h5 M131.4 835.8v5.4M128.9 838.5h5 M164.3 851.5v5.4M161.8 854.2h5 M180.3 876v5.4M177.8 878.7h5 M188.2 876v5.4M185.7 878.7h5 M225.5 912.1v5.4M223 914.8h5 M230.8 921.8v5.4M228.3 924.5h5 M289.3 943.1v5.4M286.8 945.8h5 M291 943.1v5.4M288.5 945.8h5 M298.1 943.1v5.4M295.6 945.8h5 M334.2 961.3v5.4M331.7 964h5 M381 961.3v5.4M378.5 964h5 M421.9 961.3v5.4M419.4 964h5" stroke="#000" stroke-width="1.6" fill="none"/>
<path d="M329.5 763.7H487.7" stroke="#000" stroke-width="1.5"/>
<text x="362.7" y="761.6" font-size="13" text-anchor="start">Pats.</text>
<text x="408.4" y="761.6" font-size="13" text-anchor="start">Died</text>
<text x="454.4" y="761.6" font-size="13" text-anchor="start">CD38</text>
<path d="M331.2 772H357.7" stroke="#000" stroke-width="1.6"/>
<path d="M331.2 791.5h25.82" stroke="#000" stroke-width="1.5" stroke-dasharray="2.3 1.62"/>
<text x="378" y="776.8" font-size="13" text-anchor="middle">46</text>
<text x="420.9" y="776.8" font-size="13" text-anchor="middle">7</text>
<text x="471.5" y="776.8" font-size="13" text-anchor="middle">-</text>
<text x="378" y="796.4" font-size="13" text-anchor="middle">55</text>
<text x="422" y="796.4" font-size="13" text-anchor="middle">25</text>
<text x="472.4" y="796.4" font-size="13" text-anchor="middle">+</text>
<text x="397.6" y="811.3" font-size="13"><tspan font-style="italic">P</tspan>=.0005</text>
</svg>
</body></html>
